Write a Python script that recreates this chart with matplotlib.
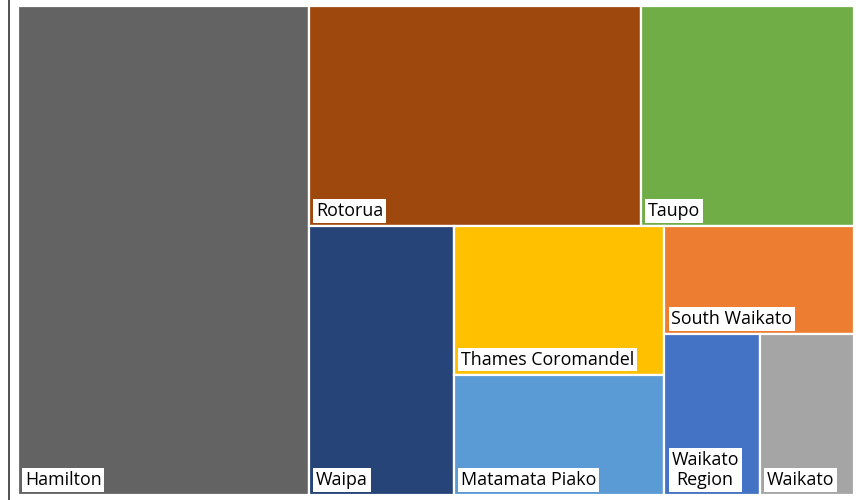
"""
Treemap of Waikato districts (share of total), drawn with plain matplotlib
rectangles. Layout is a fixed slice tree; sizes come from the values.
"""

import matplotlib
matplotlib.use("Agg")
import matplotlib.pyplot as plt
from matplotlib.patches import Rectangle
from matplotlib.lines import Line2D

plt.rcParams["font.family"] = ["Open Sans", "DejaVu Sans"]

# data (share of total, %)
names = ["Hamilton", "Rotorua", "Taupo", "Waipa", "Thames Coromandel",
         "Matamata Piako", "South Waikato", "Waikato\nRegion", "Waikato"]
values = [34.81, 17.87, 11.46, 9.54, 7.65, 6.20, 5.01, 3.76, 3.70]
colors = ["#636363", "#9E480E", "#70AD47", "#264478", "#FFC000",
          "#5B9BD5", "#ED7D31", "#4472C4", "#A5A5A5"]

# slice tree: "h" = children side by side, "v" = stacked top to bottom
TREE = ("h", [0, ("v", [("h", [1, 2]),
                        ("h", [3, ("v", [4, 5]),
                               ("v", [6, ("h", [7, 8])])])])])


def total(node):
    if isinstance(node, int):
        return values[node]
    return sum(total(c) for c in node[1])


def layout(node, x, y, w, h, out):
    # y is the top edge, y grows downward
    if isinstance(node, int):
        out[node] = (x, y, w, h)
        return
    kind, kids = node
    s = total(node)
    for k in kids:
        frac = total(k) / s
        if kind == "h":
            layout(k, x, y, w * frac, h, out)
            x += w * frac
        else:
            layout(k, x, y, w, h * frac, out)
            y += h * frac


FIG_W, FIG_H = 856, 500
fig = plt.figure(figsize=(FIG_W / 100, FIG_H / 100), dpi=100)
left, top, right, bottom = 18, 6, 854, 495
ax = fig.add_axes([left / FIG_W, 1 - bottom / FIG_H,
                   (right - left) / FIG_W, (bottom - top) / FIG_H])
W, H = right - left, bottom - top
ax.set_xlim(0, W)
ax.set_ylim(H, 0)
ax.axis("off")

rects = {}
layout(TREE, 0, 0, W, H, rects)

for i, name in enumerate(names):
    x, y, w, h = rects[i]
    ax.add_patch(Rectangle((x, y), w, h, facecolor=colors[i],
                           edgecolor="white", lw=1.6))
    ax.annotate(name, (x, y + h), xytext=(7, 6), textcoords="offset pixels",
                ha="left", va="bottom", fontsize=12.9, color="black",
                multialignment="center", linespacing=1.15,
                bbox=dict(boxstyle="square,pad=0.15", fc="white", ec="none"))

# border line at the left edge of the original chart crop
fig.add_artist(Line2D([8.5 / FIG_W] * 2, [0, 1], color="#333333", lw=1.2))

fig.savefig("out.png", dpi=100)
